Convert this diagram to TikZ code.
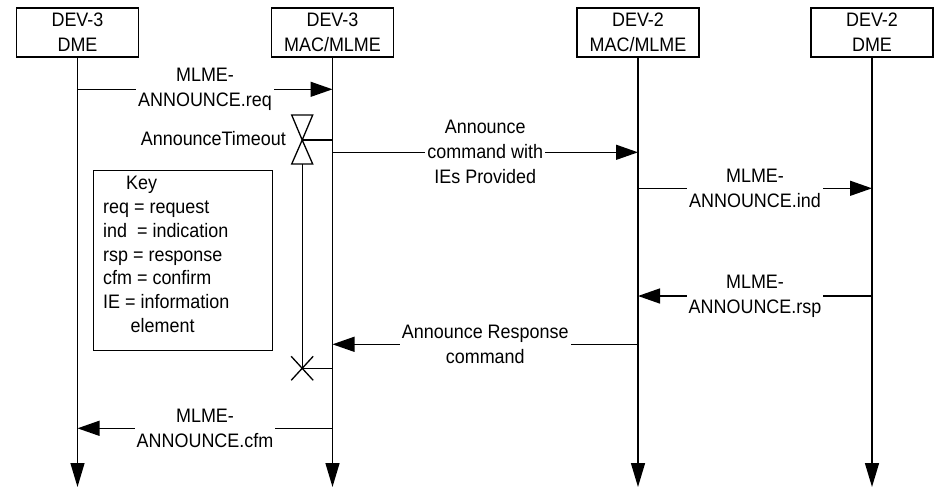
\documentclass[tikz,border=0pt]{standalone}
\usepackage{fontspec}
\setmainfont[FakeStretch=0.92]{Liberation Sans}
\usetikzlibrary{arrows.meta}
\begin{document}
\begin{tikzpicture}[x=1pt,y=-1pt,
  every node/.style={font=\fontsize{19.5}{25}\selectfont},
  box/.style={draw, line width=1.3pt, minimum width=122pt, minimum height=49pt, align=center, inner sep=0pt},
  life/.style={line width=1.4pt, -{Triangle[length=24pt,width=14pt]}},
  msg/.style={line width=1.4pt, -{Triangle[length=22pt,width=15pt]}},
  lbl/.style={fill=white, align=center, inner xsep=2pt, inner ysep=1pt},
  tline/.style={line width=1.3pt},
  keybox/.style={draw, line width=1.3pt, minimum width=179pt, minimum height=180pt, inner sep=0pt, anchor=north west},
  keytext/.style={anchor=north west, inner sep=0pt, align=left, font=\fontsize{19.5}{23.8}\selectfont}
]
\useasboundingbox (0,0) rectangle (937,488);

% entities
\node[box] (b1) at (77.5,32.5) {DEV-3\\DME};
\node[box] (b2) at (332.5,32.5) {DEV-3\\MAC/MLME};
\node[box] (b3) at (638,32.5) {DEV-2\\MAC/MLME};
\node[box] (b4) at (872,32.5) {DEV-2\\DME};

% lifeline ends
\coordinate (e1) at (77.5,487);
\coordinate (e2) at (332.5,487);
\coordinate (e3) at (638,487);
\coordinate (e4) at (872,487);
\draw[life] (b1.south) -- (e1);
\draw[life] (b2.south) -- (e2);
\draw[life] (b3.south) -- (e3);
\draw[life] (b4.south) -- (e4);

% message anchor points
\coordinate (req1) at (77.5,89.3);
\coordinate (req2) at (332.5,89.3);
\coordinate (cmd2) at (332.5,152.3);
\coordinate (cmd3) at (638,152.3);
\coordinate (ind3) at (638,188.3);
\coordinate (ind4) at (872,188.3);
\coordinate (rsp4) at (872,296);
\coordinate (rsp3) at (638,296);
\coordinate (res3) at (638,344.3);
\coordinate (res2) at (332.5,344.3);
\coordinate (cfm2) at (332.5,428.3);
\coordinate (cfm1) at (77.5,428.3);

\draw[msg] (req1) -- node[lbl] {MLME-\\ANNOUNCE.req} (req2);
\draw[msg] (cmd2) -- node[lbl] {Announce\\command with\\IEs Provided} (cmd3);
\draw[msg] (ind3) -- node[lbl] {MLME-\\ANNOUNCE.ind} (ind4);
\draw[msg] (rsp4) -- node[lbl] {MLME-\\ANNOUNCE.rsp} (rsp3);
\draw[msg] (res3) -- node[lbl] {Announce Response\\command} (res2);
\draw[msg] (cfm2) -- node[lbl] {MLME-\\ANNOUNCE.cfm} (cfm1);

% timer
\coordinate (tstart) at (302.2,140);
\coordinate (tl2) at (332.5,140);
\coordinate (tend) at (302.2,368.3);
\coordinate (te2) at (332.5,368.3);
\draw[tline] (291.7,115) -- (312.7,115) -- (tstart) -- cycle;
\draw[tline] (tstart) -- (291.7,164) -- (312.7,164) -- cycle;
\draw[tline] (tstart) -- (tl2);
\draw[tline] (302.2,164) -- (tend);
\draw[tline] (tend) -- (te2);
\draw[tline] (291.2,356.3) -- (313.2,380.3);
\draw[tline] (291.2,380.3) -- (313.2,356.3);
\node[anchor=east, inner sep=0pt] (tlabel) at (286,138.7) {AnnounceTimeout};

% key
\node[keybox] (key) at (93,170) {};
\node[keytext] (keyt) at (103,176) {\hspace*{23pt}Key\\req = request\\ind\ \ = indication\\rsp = response\\cfm = confirm\\IE = information\\\hspace*{27.5pt}element};
\end{tikzpicture}
\end{document}
